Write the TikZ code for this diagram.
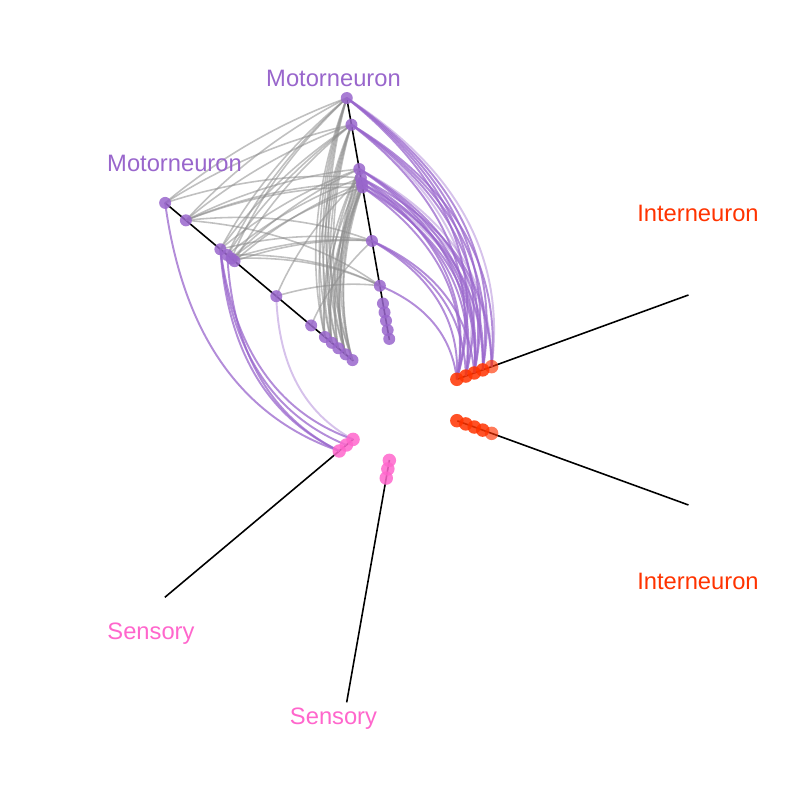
\documentclass[tikz,border=0pt]{standalone}
\usepackage{fontspec}
\setmainfont{Liberation Sans}
\usetikzlibrary{calc}
\pgfdeclarelayer{background}
\pgfsetlayers{background,main}

\definecolor{motorcol}{HTML}{9966CC}
\definecolor{intercol}{HTML}{FF3300}
\definecolor{sensecol}{HTML}{FF66CC}

\tikzset{
  axisline/.style={black,line width=0.45pt},
  hnode/.style={circle,inner sep=0pt,minimum size=1.2mm,fill opacity=0.85},
  motornode/.style={hnode,fill=motorcol},
  internode/.style={hnode,minimum size=1.35mm,fill=intercol},
  sensenode/.style={hnode,minimum size=1.35mm,fill=sensecol},
  grayedge/.style={black!45,line width=0.45pt,opacity=0.55},
  purpedge/.style={motorcol,line width=0.55pt,opacity=0.75},
  lightedge/.style={purpedge,opacity=0.4},
  axislabel/.style={anchor=base}
}

% hive edge: quadratic curve, control point on the mid angle
\newcommand{\hivelink}[5][grayedge]{%
  \draw[#1] let \p1=(#2.center), \p2=(#3.center),
    \n1={veclen(\x1,\y1)}, \n2={veclen(\x2,\y2)} in
    (#2.center) .. controls ($(#2.center)!2/3!(#4:{#5*(\n1+\n2)/2})$)
    and ($(#3.center)!2/3!(#4:{#5*(\n1+\n2)/2})$) .. (#3.center);
}

\begin{document}
\begin{tikzpicture}[font=\fontsize{6.75pt}{8pt}\selectfont]
\useasboundingbox (-4,-4) rectangle (4,4);

% nodes on the six axes
\foreach \r [count=\i] in {3.066,2.795,2.345,2.255,2.20,2.16,1.615,1.16,0.98,0.89,0.805,0.71,0.62} {
  \node[motornode] (l\i) at (140:\r) {};
  \node[motornode] (t\i) at (100:\r) {};
}
\foreach \r [count=\i] in {0.605,0.70,0.79,0.88} {
  \node[internode] (ia\i) at (20:\r) {};
  \node[internode] (ib\i) at (-20:\r) {};
}
\node[internode,fill opacity=0.65] (ia5) at (20:0.975) {};
\node[internode,fill opacity=0.65] (ib5) at (-20:0.975) {};
\foreach \r [count=\i] in {0.613,0.70,0.793} {
  \node[sensenode] (sa\i) at (220:\r) {};
  \node[sensenode] (sb\i) at (260:\r) {};
}

\begin{pgfonlayer}{background}
\foreach \a in {20,-20,100,140,220,260}
  \draw[axisline] (\a:0.61) -- (\a:3.07);

% motor -- motor
\foreach \a/\b in {1/1,1/2,1/4,2/1,2/2,2/3,2/5,2/6,2/7,2/8,3/1,3/2,3/3,3/7,
    4/1,4/2,4/4,4/8,5/1,5/3,5/6,5/7,5/8,6/2,6/5,6/7,7/4,7/8,8/7,
    9/1,9/2,9/3,9/4,10/1,10/2,10/3,10/5,10/6,11/1,11/2,11/4,11/6,
    12/1,12/2,12/3,12/4,12/5,12/6,13/1,13/2,13/3,13/5,13/6}
  \hivelink{l\a}{t\b}{120}{1.0};

% motor -- interneuron
\foreach \a/\b in {1/1,1/2,1/3,1/4,2/1,2/3,2/4,2/5,3/2,3/3,3/4,
    4/1,4/3,4/5,5/2,5/4,6/1,6/3,7/1,7/2,7/3,8/1}
  \hivelink[purpedge]{t\a}{ia\b}{60}{1.12};
\foreach \a/\b in {1/5,2/2,3/5,5/5,6/4}
  \hivelink[lightedge]{t\a}{ia\b}{60}{1.12};

% motor -- sensory
\foreach \a/\b in {1/3,3/1,3/2,3/3,4/3}
  \hivelink[purpedge]{l\a}{sa\b}{180}{1.08};
\hivelink[lightedge]{l7}{sa1}{180}{1.08};
\end{pgfonlayer}

% axis labels
\node[axislabel,text=motorcol] (lbmt) at (-0.665,3.135) {Motorneuron};
\node[axislabel,text=motorcol] (lbml) at (-2.255,2.285) {Motorneuron};
\node[axislabel,text=intercol] (lbia) at (2.98,1.785) {Interneuron};
\node[axislabel,text=intercol] (lbib) at (2.98,-1.895) {Interneuron};
\node[axislabel,text=sensecol] (lbsa) at (-2.49,-2.395) {Sensory};
\node[axislabel,text=sensecol] (lbsb) at (-0.665,-3.245) {Sensory};
\end{tikzpicture}
\end{document}
